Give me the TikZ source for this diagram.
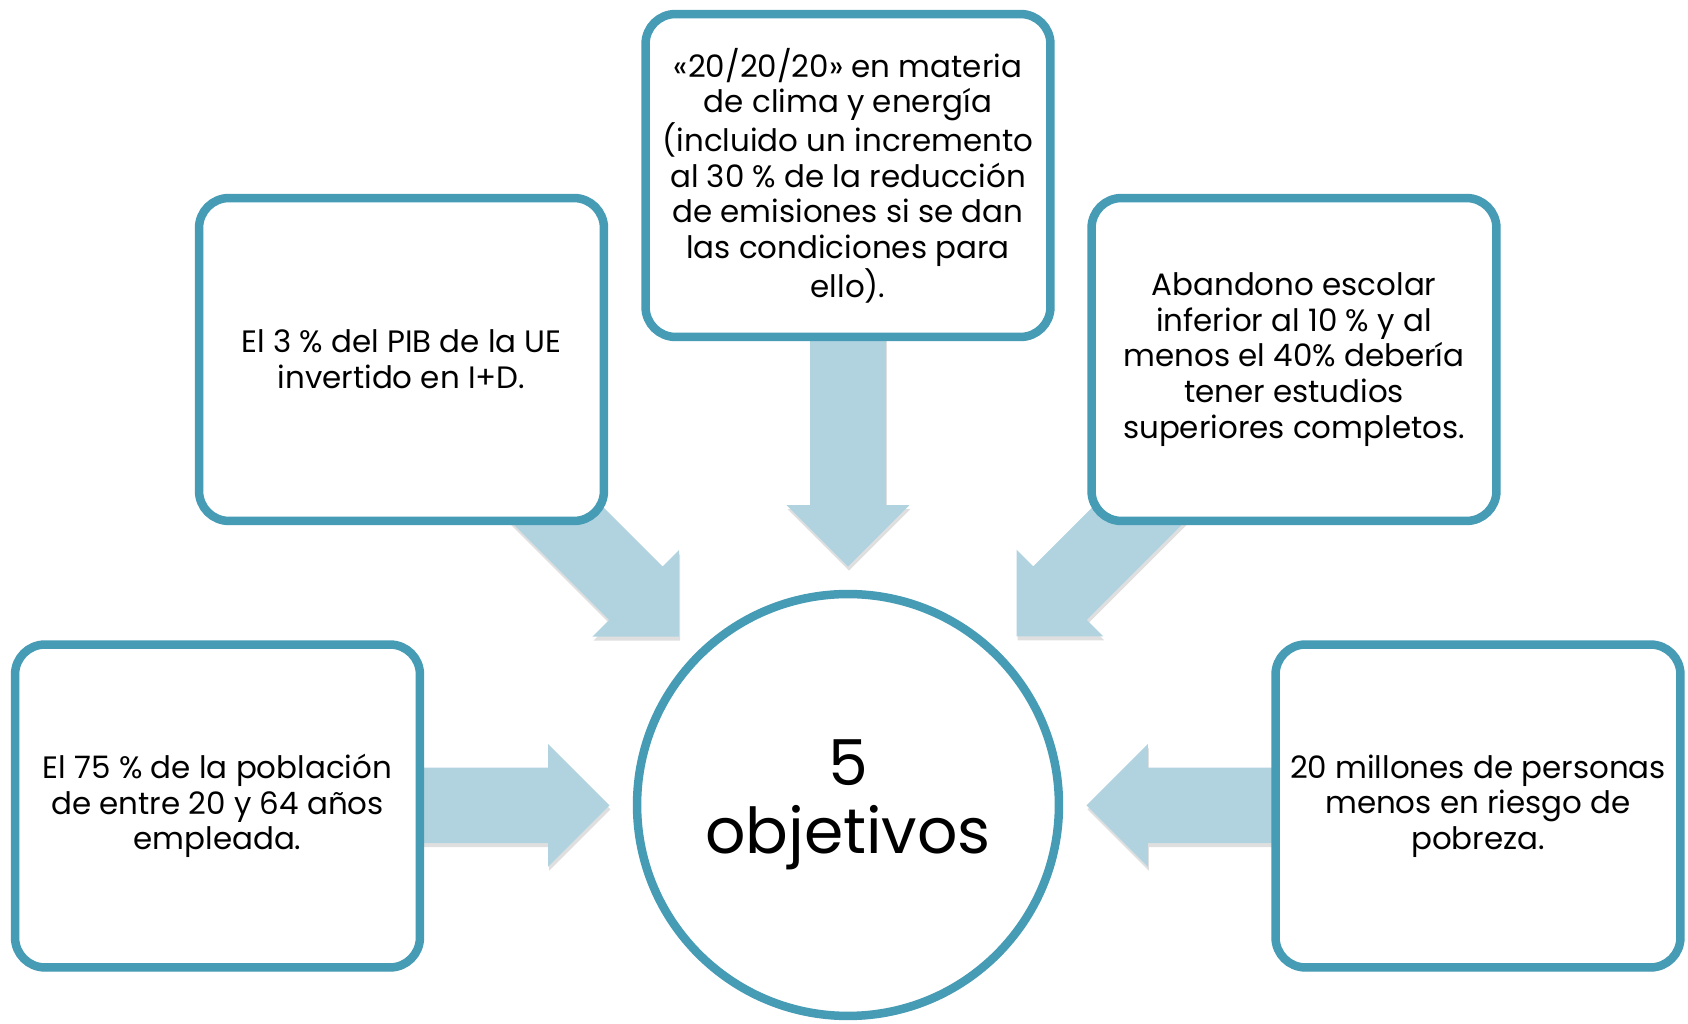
\documentclass[tikz,border=0pt]{standalone}
\usepackage{fontspec}
\setmainfont{Poppins}
\usetikzlibrary{shapes.arrows,shadows,calc,backgrounds}
\definecolor{borde}{HTML}{469BB5}
\definecolor{celeste}{HTML}{B1D3DF}

\begin{document}
\begin{tikzpicture}[x=0.02cm, y=0.02cm,
    sombra/.style={drop shadow={shadow xshift=0.02cm, shadow yshift=-0.08cm, opacity=0.25}},
    meta/.style={draw=borde, line width=0.17cm, fill=white, rounded corners=0.6cm,
        minimum width=8.1cm, minimum height=6.46cm, align=center, inner sep=0pt,
        font=\fontsize{17.6}{20.3}\selectfont, sombra},
    centro/.style={circle, draw=borde, line width=0.17cm, fill=white, minimum size=8.44cm,
        align=center, inner sep=0pt, font=\fontsize{36}{41.5}\selectfont, sombra},
    flecha/.style={single arrow, fill=celeste, draw=none, minimum height=4.9cm,
        inner xsep=0pt, inner ysep=0.75cm, single arrow head extend=0.47cm,
        single arrow tip angle=90, sombra}]
    \useasboundingbox (0,0) rectangle (1688,1024);

    % Centre
    \node[centro] (obj) at (848,219) {\raisebox{-0.28cm}{\shortstack{5\\[0.3cm]objetivos}}};

    % Goals
    \node[meta] (clima) at (848,848.5) {«20/20/20» en materia\\de clima y energía\\(incluido un incremento\\al 30 \% de la reducción\\de emisiones si se dan\\las condiciones para\\ello).};
    \node[meta] (id) at (401.5,664.5) {El 3 \% del PIB de la UE\\invertido en I+D.};
    \node[meta] (escolar) at (1294,664.5) {Abandono escolar\\inferior al 10 \% y al\\menos el 40\% debería\\tener estudios\\superiores completos.};
    \node[meta] (empleo) at (217.5,218) {El 75 \% de la población\\de entre 20 y 64 años\\empleada.};
    \node[meta] (pobreza) at (1478,218) {20 millones de personas\\menos en riesgo de\\pobreza.};

    % Arrows
    \begin{pgfonlayer}{background}
        \foreach \caja/\ang in {empleo/0, id/-45, clima/-90, escolar/-135, pobreza/180}
            \node[flecha, rotate=\ang, anchor=tip] (f-\caja) at ($(obj)!4.76cm!(\caja)$) {};
    \end{pgfonlayer}
\end{tikzpicture}
\end{document}
